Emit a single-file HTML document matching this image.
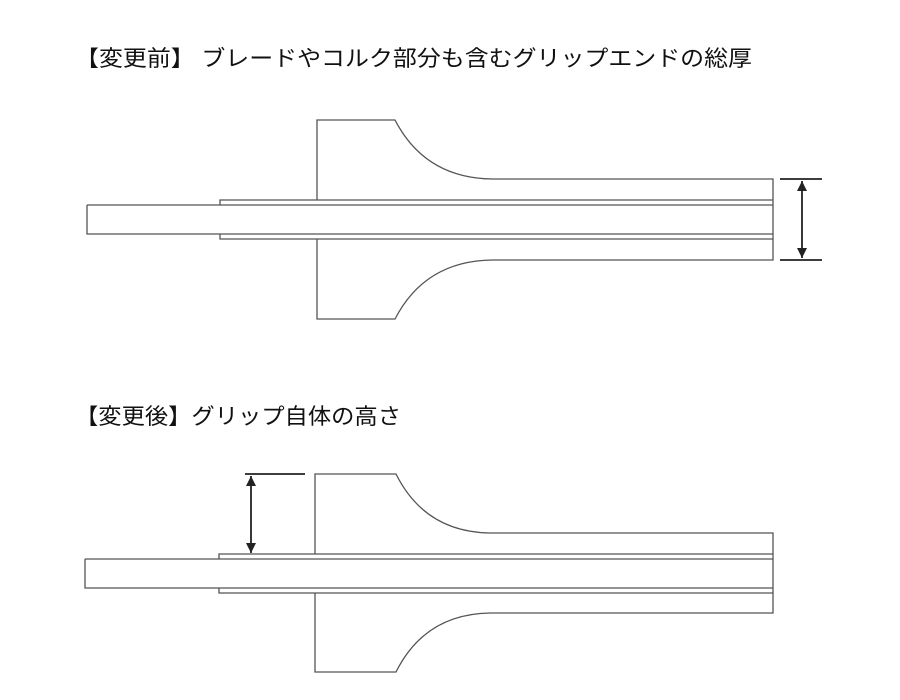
<!DOCTYPE html>
<html><head><meta charset="utf-8"><style>
html,body{margin:0;padding:0;background:#fff;width:900px;height:700px;overflow:hidden}
text{font-family:"Liberation Sans","Noto Sans CJK JP",sans-serif;fill:#111}
</style></head><body>
<svg width="900" height="700" viewBox="0 0 900 700" xmlns="http://www.w3.org/2000/svg">
<defs>
<marker id="ah" viewBox="0 0 10 10" refX="10" refY="5" markerWidth="14" markerHeight="10" orient="auto-start-reverse" markerUnits="userSpaceOnUse"><path d="M0,0 L10,5 L0,10 z" fill="#222"/></marker>
</defs>
<text x="75" y="66" font-size="22" textLength="677" lengthAdjust="spacingAndGlyphs">【変更前】 ブレードやコルク部分も含むグリップエンドの総厚</text>
<text x="75" y="424" font-size="22" textLength="326" lengthAdjust="spacingAndGlyphs">【変更後】グリップ自体の高さ</text>

<g fill="none" stroke="#555" stroke-width="1.3">
<path d="M317,200 V120 H395 Q425,178 492,179 H773 V260 H492 Q425,261 395,319 H317 V239"/>
<path d="M87,205 H220 V200 H773 M220,205 H773 M87,205 V234 H220 V239 H773 M220,234 H773"/>
<path d="M315,554 V474 H396 Q425,532 490,533 H773 V613 H490 Q425,614 396,672 H315 V593"/>
<path d="M85,559 H219 V554 H773 M219,559 H773 M85,559 V588 H219 V593 H773 M219,588 H773"/>
</g>
<g stroke="#222" stroke-width="1.8" fill="none">
<path d="M780,179 H822 M780,260 H822"/>
<line x1="802" y1="181" x2="802" y2="258" marker-start="url(#ah)" marker-end="url(#ah)"/>
<path d="M245,474 H305"/>
<line x1="251" y1="476" x2="251" y2="553" marker-start="url(#ah)" marker-end="url(#ah)"/>
</g>
</svg>
</body></html>
